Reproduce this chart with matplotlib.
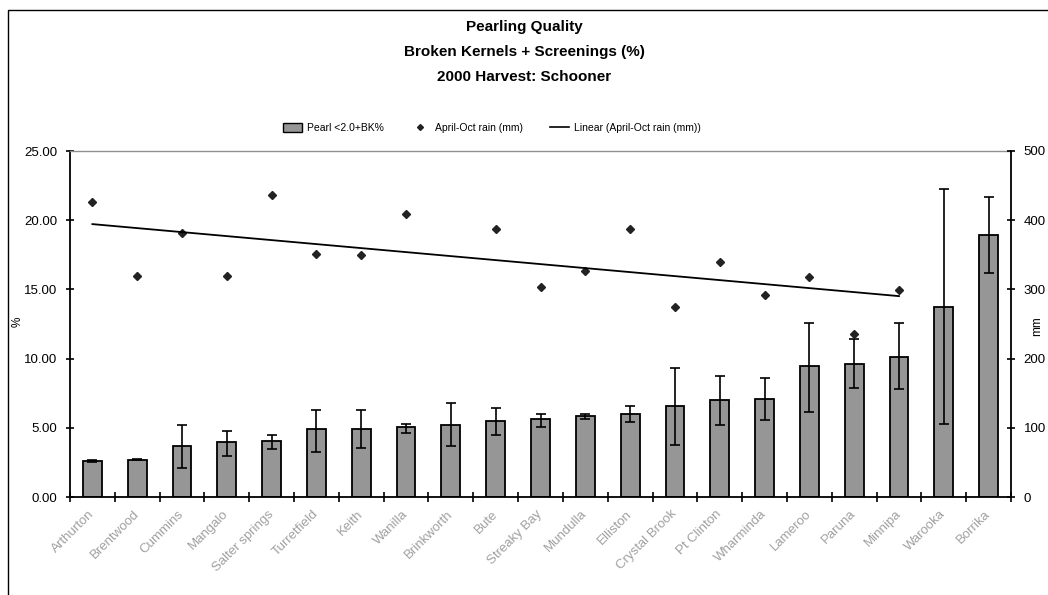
import numpy as np
import matplotlib
matplotlib.use("Agg")
import matplotlib.pyplot as plt
from matplotlib.patches import Rectangle, Patch
from matplotlib.lines import Line2D

plt.rcParams['font.family'] = ['Liberation Sans', 'DejaVu Sans']

sites = ["Arthurton", "Brentwood", "Cummins", "Mangalo", "Salter springs",
         "Turretfield", "Keith", "Wanilla", "Brinkworth", "Bute", "Streaky Bay",
         "Mundulla", "Elliston", "Crystal Brook", "Pt Clinton", "Wharminda",
         "Lameroo", "Paruna", "Minnipa", "Warooka", "Borrika"]
pearl = [2.60, 2.70, 3.67, 3.94, 4.08, 4.90, 4.90, 5.05, 5.17, 5.46, 5.60,
         5.87, 6.01, 6.57, 6.98, 7.10, 9.44, 9.59, 10.14, 13.74, 18.94]
err_hi = [2.68, 2.75, 5.17, 4.76, 4.49, 6.30, 6.30, 5.31, 6.81, 6.43, 6.01,
          5.97, 6.55, 9.30, 8.74, 8.62, 12.60, 11.40, 12.60, 22.25, 21.70]
err_lo = [2.55, 2.66, 2.10, 2.95, 3.48, 3.24, 3.55, 4.60, 3.65, 4.49, 5.05,
          5.60, 5.41, 3.79, 5.17, 5.58, 6.14, 7.90, 7.80, 5.29, 16.16]
rain = [426, 319, 381, 319, 437, 351, 349, 409, np.nan, 388, 303,
        327, 388, 274, 340, 292, 318, 236, 299, np.nan, np.nan]

W, H = 1048, 595
fig = plt.figure(figsize=(W / 100, H / 100), dpi=100)

# outer chart frame
fig.add_artist(Rectangle((8 / W, -0.05), 1.2, 1 - 10 / H + 0.05,
                         transform=fig.transFigure, fill=False,
                         edgecolor='black', linewidth=1.0))

ax = fig.add_axes([70 / W, 1 - 497 / H, (1011 - 70) / W, (497 - 151) / H])
x = np.arange(len(sites))
pearl_a = np.array(pearl)
yerr = np.vstack([pearl_a - np.array(err_lo), np.array(err_hi) - pearl_a])
ax.bar(x, pearl, width=0.42, color='#969696', edgecolor='black',
       linewidth=1.3, zorder=2)
ax.errorbar(x, pearl, yerr=yerr, fmt='none', ecolor='black', elinewidth=1.2,
            capsize=3.5, capthick=1.2, zorder=3)
ax.set_xlim(-0.5, len(sites) - 0.5)
ax.set_ylim(0, 25)
ax.set_yticks(np.arange(0, 25.01, 5))
ax.set_yticklabels([f"{v:.2f}" for v in np.arange(0, 25.01, 5)])
ax.set_xticks(x)
ax.set_xticklabels(sites, rotation=45, ha='right', va='center',
                   rotation_mode='anchor', fontsize=9.5, color='#a0a0a0')
ax.tick_params(axis='x', length=0, pad=11)
ax.set_xticks(np.arange(-0.5, len(sites) + 0.5, 1), minor=True)
ax.tick_params(axis='x', which='minor', direction='inout', length=7, width=1.2)
ax.tick_params(axis='y', direction='inout', length=6, width=1.2,
               labelsize=9.5, pad=6)
for s in ['left', 'bottom']:
    ax.spines[s].set_linewidth(1.3)
ax.spines['top'].set_color('#909090')
ax.spines['top'].set_linewidth(1.0)
ax.spines['right'].set_visible(False)

ax2 = ax.twinx()
ax2.set_ylim(0, 500)
ax2.set_yticks(np.arange(0, 501, 100))
ax2.tick_params(axis='y', direction='inout', length=6, width=1.2,
                labelsize=9.5, pad=6)
ax2.spines['right'].set_linewidth(1.3)
ax2.spines['top'].set_visible(False)
ax2.spines['left'].set_visible(False)
ax2.spines['bottom'].set_visible(False)

rain_a = np.array(rain, dtype=float)
ax2.plot(x, rain_a, linestyle='none', marker='D', markersize=4,
         color='#222222', zorder=4)
mask = ~np.isnan(rain_a)
coef = np.polyfit(x[mask], rain_a[mask], 1)
xt = np.arange(0, 19)
ax2.plot(xt, np.polyval(coef, xt), color='black', linewidth=1.3, zorder=4)

fig.text(18 / W, 1 - 322 / H, '%', rotation=90, ha='center', va='center',
         fontsize=8.5)
fig.text(1037 / W, 1 - 326 / H, 'mm', rotation=90, ha='center', va='center',
         fontsize=8.5)

fig.text(0.5, 1 - 27 / H, 'Pearling Quality', ha='center', va='center',
         fontsize=11, fontweight='bold')
fig.text(0.5, 1 - 52 / H, 'Broken Kernels + Screenings (%)', ha='center',
         va='center', fontsize=11, fontweight='bold')
fig.text(0.5, 1 - 77 / H, '2000 Harvest: Schooner', ha='center',
         va='center', fontsize=11, fontweight='bold')

handles = [Patch(facecolor='#969696', edgecolor='black', linewidth=1.0),
           Line2D([], [], linestyle='none', marker='D', markersize=3,
                  color='#222222'),
           Line2D([], [], color='black', linewidth=1.2)]
labels = ['Pearl <2.0+BK%', 'April-Oct rain (mm)',
          'Linear (April-Oct rain (mm))']
fig.legend(handles, labels, loc='center', bbox_to_anchor=(492 / W, 1 - 128 / H),
           ncol=3, frameon=False, fontsize=7.5, handlelength=1.8,
           handleheight=0.9, columnspacing=2.6, handletextpad=0.5)

fig.savefig('out.png', dpi=100)
